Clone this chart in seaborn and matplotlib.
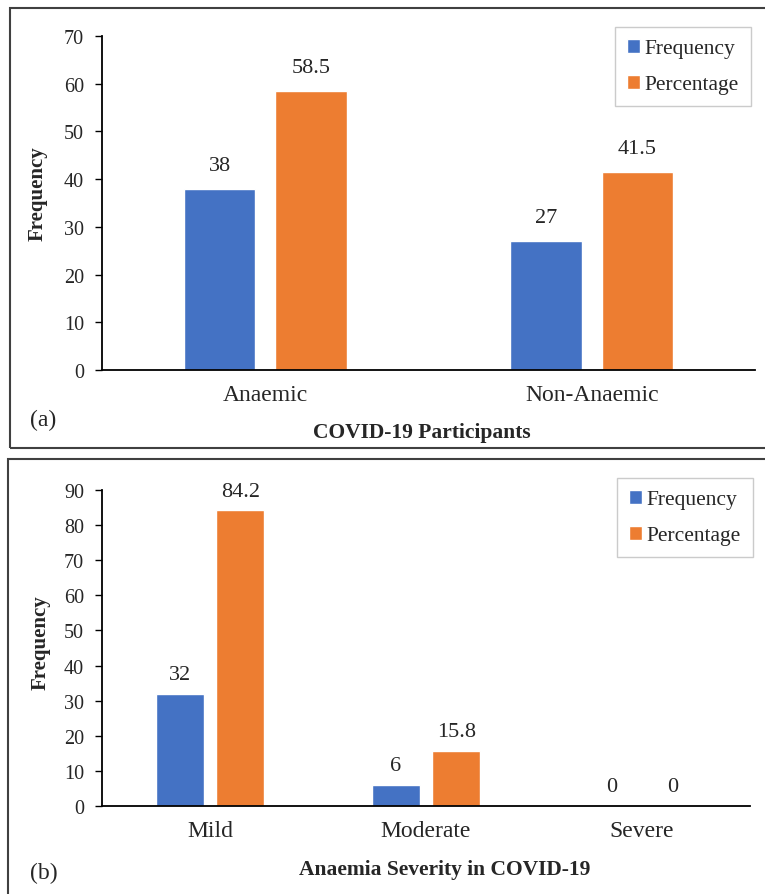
import matplotlib
matplotlib.use("Agg")
import matplotlib.pyplot as plt
import seaborn as sns
import pandas as pd
from matplotlib.patches import Rectangle

# ---- data ----
cats_a = ["Anaemic", "Non-Anaemic"]
freq_a = [38, 27]
pct_a = [58.5, 41.5]

cats_b = ["Mild", "Moderate", "Severe"]
freq_b = [32, 6, 0]
pct_b = [84.2, 15.8, 0]

series = ["Frequency", "Percentage"]
yticks_a = [0, 10, 20, 30, 40, 50, 60, 70]
yticks_b = [0, 10, 20, 30, 40, 50, 60, 70, 80, 90]

BLUE = "#4472C4"
ORANGE = "#ED7D31"

sns.set_theme(style="white")
plt.rcParams["font.family"] = ["Liberation Serif", "DejaVu Serif"]

W, H = 765, 895
fig = plt.figure(figsize=(W / 100, H / 100), dpi=100)


def fx(x):
    return x / W


def fy(y):
    return 1 - y / H


# panel frames
fig.patches.append(Rectangle((fx(10), fy(449)), fx(770) - fx(10), fy(9) - fy(449),
                             transform=fig.transFigure, fill=False, edgecolor="#404040", lw=1.5))
fig.patches.append(Rectangle((fx(8), fy(905)), fx(770) - fx(8), fy(460) - fy(905),
                             transform=fig.transFigure, fill=False, edgecolor="#404040", lw=1.5))


def make_df(cats, freq, pct):
    return pd.DataFrame({
        "cat": cats * 2,
        "value": list(freq) + list(pct),
        "series": [series[0]] * len(cats) + [series[1]] * len(cats),
    })


def draw(ax, df, cats, yticks, xlabel, legend_anchor, cat_pad, val_pad,
         xlab_pos, ylab_pos):
    sns.barplot(data=df, x="cat", y="value", hue="series", order=cats,
                hue_order=series, palette=[BLUE, ORANGE], saturation=1,
                width=0.56, gap=0.214, ax=ax, errorbar=None)
    ax.set_ylim(yticks[0], yticks[-1])
    ax.set_yticks(yticks)
    ax.tick_params(axis="y", labelsize=14.5, length=5, width=1, direction="out",
                   left=True, color="black", pad=8)
    ax.tick_params(axis="x", labelsize=17, length=0, pad=cat_pad)
    for s in ["top", "right"]:
        ax.spines[s].set_visible(False)
    for s in ["left", "bottom"]:
        ax.spines[s].set_color("black")
        ax.spines[s].set_linewidth(1.3)
    ax.set_ylabel("Frequency", fontsize=15, fontweight="bold")
    ax.yaxis.set_label_coords(*ylab_pos)
    ax.yaxis.label.set_va("center")
    ax.set_xlabel(xlabel, fontsize=15.5, fontweight="bold")
    ax.xaxis.set_label_coords(*xlab_pos)
    ax.xaxis.label.set_va("center")
    for c in ax.containers:
        ax.bar_label(c, fmt="%g", padding=val_pad, fontsize=16)
    leg = ax.legend(loc="upper right", bbox_to_anchor=legend_anchor,
                    bbox_transform=fig.transFigure, fontsize=15.5, frameon=True,
                    fancybox=False, edgecolor="#BFBFBF", handlelength=0.6,
                    handleheight=0.6, handletextpad=0.25, borderpad=0.55,
                    labelspacing=0.78, borderaxespad=0, title=None)
    leg.get_frame().set_linewidth(1.0)


# axes (a): x 102..755 px, y 37..371 px
ax1 = fig.add_axes([fx(102), fy(371), fx(755) - fx(102), fy(37) - fy(371)])
draw(ax1, make_df(cats_a, freq_a, pct_a), cats_a, yticks_a,
     "COVID-19 Participants", (fx(751), fy(28)), 10, 10,
     ((422 - 102) / 653, (371 - 433) / 334),
     ((38 - 102) / 653, (371 - 194) / 334))

# axes (b): x 102..750 px, y 491..807 px
ax2 = fig.add_axes([fx(102), fy(807), fx(750) - fx(102), fy(491) - fy(807)])
draw(ax2, make_df(cats_b, freq_b, pct_b), cats_b, yticks_b,
     "Anaemia Severity in COVID-19", (fx(753), fy(479)), 10, 7,
     ((445 - 102) / 648, (807 - 870) / 316),
     ((41 - 102) / 648, (807 - 643) / 316))

fig.text(fx(30), fy(420), "(a)", fontsize=17, va="center", ha="left")
fig.text(fx(30), fy(873), "(b)", fontsize=17, va="center", ha="left")

fig.savefig("out.png", dpi=100)
